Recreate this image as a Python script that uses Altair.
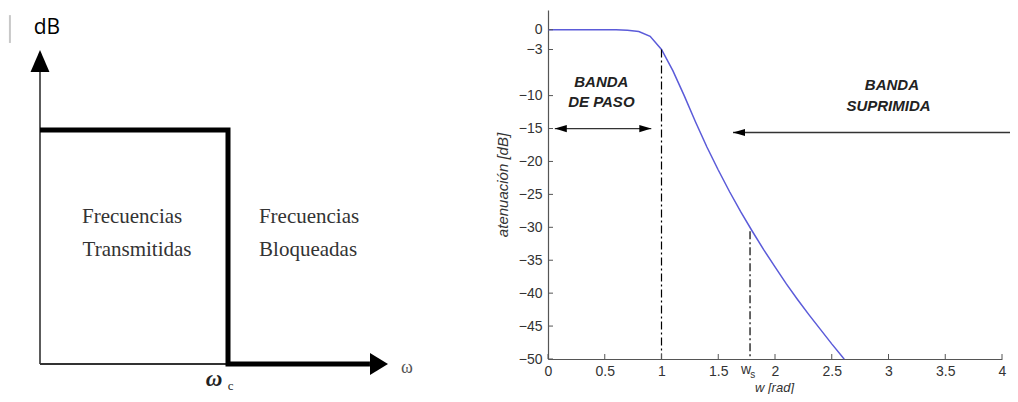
import altair as alt
import pandas as pd

# ================= LEFT PANEL: ideal low-pass sketch =================
# x in units of w/wc, y in units of the pass-band level
ideal_x = [0.0, 1.0, 1.0, 1.755]
ideal_y = [1.0, 1.0, 0.0, 0.0]
vaxis_x = [0.0, 0.0]
vaxis_y = [0.0, 1.25]
haxis_x = [0.0, 1.0]
haxis_y = [0.0, 0.0]
arrow_up_x = [0.0]
arrow_up_y = [1.342]
arrow_right_x = [1.851]
arrow_right_y = [0.0]
region_labels = ["Frecuencias", "Transmitidas", "Frecuencias", "Bloqueadas"]
region_x = [0.49, 0.516, 1.431, 1.426]
region_y = [0.628, 0.487, 0.628, 0.487]
omega_c_x = [0.926]
omega_c_y = [-0.066]
sub_c_x = [1.014]
sub_c_y = [-0.094]
omega_x = [1.952]
omega_y = [-0.015]
db_label_x = [0.037]
db_label_y = [1.436]
cursor_x = [-0.16, -0.16]
cursor_y = [1.372, 1.491]

# ================= RIGHT PANEL: attenuation curve =================
w_curve = [0.0, 0.2, 0.4, 0.6, 0.7, 0.8, 0.9, 1.0, 1.1, 1.2, 1.3, 1.4, 1.5,
           1.6, 1.7, 1.8, 1.9, 2.0, 2.1, 2.2, 2.3, 2.4, 2.5, 2.6, 2.61]
db_curve = [0.0, 0.0, 0.0, -0.01, -0.06, -0.27, -1.0, -3.0, -6.2, -10.0, -14.0,
            -17.8, -21.3, -24.6, -27.7, -30.6, -33.4, -36.0, -38.6, -41.0,
            -43.3, -45.5, -47.7, -49.8, -50.0]
ytick_vals = [0, -3, -10, -15, -20, -25, -30, -35, -40, -45, -50]
xtick_vals = [0, 0.5, 1, 1.5, 2, 2.5, 3, 3.5, 4]
vline_w = [1.0, 1.78]
vline_top = [-3.0, -30.6]
vline_bottom = [-50.0, -50.0]
band_arrow_from = [0.06, 1.63]
band_arrow_to = [0.91, 4.3]
band_arrow_db = [-15.0, -15.6]
head_left_w = [0.06, 1.63]
head_left_db = [-15.0, -15.6]
head_right_w = [0.91]
head_right_db = [-15.0]
band_text = ["BANDA", "DE PASO", "BANDA", "SUPRIMIDA"]
band_w = [0.47, 0.47, 3.03, 3.0]
band_db = [-7.9, -10.9, -8.4, -11.6]
ws_w = [1.744]
ws_db = [-51.7]
ws_sub_w = [1.804]
ws_sub_db = [-52.5]

# ----------------------------------------------------------------
def df(**cols):
    d = pd.DataFrame(cols)
    d["i"] = range(len(d))
    return d

LX = alt.Scale(domain=[0, 1], range=[-508, -320], nice=False, zero=False)
LY = alt.Scale(domain=[0, 1], range=[354, 120], nice=False, zero=False)

def lxy():
    return dict(x=alt.X("x:Q", scale=LX, axis=None),
                y=alt.Y("y:Q", scale=LY, axis=None))

UP = "M0,0L-0.86,2L0.86,2Z"
RIGHT = "M0,0L-2,-1.22L-2,1.22Z"
S_LEFT = "M0,0L2,-0.6L2,0.6Z"
S_RIGHT = "M0,0L-2,-0.6L-2,0.6Z"

left = alt.layer(
    alt.Chart(df(x=cursor_x, y=cursor_y)).mark_line(color="#c8c8c8", strokeWidth=2)
       .encode(order="i:Q", **lxy()),
    alt.Chart(df(x=vaxis_x, y=vaxis_y)).mark_line(color="#333", strokeWidth=1.6)
       .encode(order="i:Q", **lxy()),
    alt.Chart(df(x=haxis_x, y=haxis_y)).mark_line(color="#333", strokeWidth=2)
       .encode(order="i:Q", **lxy()),
    alt.Chart(df(x=ideal_x, y=ideal_y)).mark_line(color="black", strokeWidth=5,
                                                   strokeJoin="miter", strokeCap="butt")
       .encode(order="i:Q", **lxy()),
    alt.Chart(df(x=arrow_up_x, y=arrow_up_y)).mark_point(
        shape=UP, size=484, filled=True, color="black", opacity=1, strokeWidth=0)
       .encode(**lxy()),
    alt.Chart(df(x=arrow_right_x, y=arrow_right_y)).mark_point(
        shape=RIGHT, size=324, filled=True, color="black", opacity=1, strokeWidth=0)
       .encode(**lxy()),
    alt.Chart(df(x=region_x, y=region_y, t=region_labels)).mark_text(
        font="Liberation Serif", fontSize=21, color="#333", align="center", baseline="middle")
       .encode(text="t:N", **lxy()),
    alt.Chart(df(x=omega_c_x, y=omega_c_y, t=["ω"])).mark_text(
        font="Liberation Serif", fontSize=23, fontStyle="italic", fontWeight="bold",
        color="#222", align="center", baseline="middle")
       .encode(text="t:N", **lxy()),
    alt.Chart(df(x=sub_c_x, y=sub_c_y, t=["c"])).mark_text(
        font="Liberation Serif", fontSize=13, color="#222", align="center", baseline="middle")
       .encode(text="t:N", **lxy()),
    alt.Chart(df(x=omega_x, y=omega_y, t=["ω"])).mark_text(
        font="Liberation Serif", fontSize=18, color="#555", align="center", baseline="middle")
       .encode(text="t:N", **lxy()),
    alt.Chart(df(x=db_label_x, y=db_label_y, t=["dB"])).mark_text(
        font="Open Sans", fontSize=21, color="black", align="center", baseline="middle")
       .encode(text="t:N", **lxy()),
)

RX = alt.Scale(domain=[0, 4], nice=False, zero=False)
RY = alt.Scale(domain=[-50, 3], nice=False, zero=False)
AX = alt.Axis(values=xtick_vals, format=".1~f", orient="bottom", ticks=False,
              labelFont="Liberation Sans", labelFontSize=14, labelColor="#333",
              labelPadding=5, labelFlush=False, labelOverlap=False,
              domainColor="#555", domainWidth=1.2, grid=False,
              title="w [rad]", titleFont="Liberation Sans", titleFontSize=13,
              titleFontStyle="italic", titleFontWeight="normal", titleColor="#333",
              titleX=226, titleY=28.5, titleBaseline="middle", titleAlign="center")
AY = alt.Axis(values=ytick_vals, format="d", orient="left", ticks=False,
              labelFont="Liberation Sans", labelFontSize=14, labelColor="#333",
              labelPadding=6, labelOverlap=False, labelFlush=False,
              domainColor="#555", domainWidth=1.2, grid=False,
              title="atenuación [dB]", titleFont="Liberation Sans", titleFontSize=15,
              titleFontStyle="italic", titleFontWeight="normal", titleColor="#333",
              titleX=-46, titleY=174.5, titleAngle=270, titleBaseline="middle",
              titleAlign="center")

def rx(f="w"):
    return alt.X(f"{f}:Q", scale=RX, axis=AX)

def ry(f="db"):
    return alt.Y(f"{f}:Q", scale=RY, axis=AY)

right = alt.layer(
    alt.Chart(df(w=w_curve, db=db_curve)).mark_line(color="#5b5bd9", strokeWidth=1.5)
       .encode(x=rx(), y=ry(), order="i:Q"),
    alt.Chart(df(w=vline_w, db=vline_top, b=vline_bottom)).mark_rule(
        color="black", strokeWidth=1.2, strokeDash=[8, 3, 2, 3])
       .encode(x=rx(), y=ry(), y2="b:Q"),
    alt.Chart(df(w=band_arrow_from, w2=band_arrow_to, db=band_arrow_db)).mark_rule(
        color="#333", strokeWidth=1.3)
       .encode(x=rx(), x2="w2:Q", y=ry()),
    alt.Chart(df(w=head_left_w, db=head_left_db)).mark_point(
        shape=S_LEFT, size=144, filled=True, color="black", opacity=1, strokeWidth=0)
       .encode(x=rx(), y=ry()),
    alt.Chart(df(w=head_right_w, db=head_right_db)).mark_point(
        shape=S_RIGHT, size=144, filled=True, color="black", opacity=1, strokeWidth=0)
       .encode(x=rx(), y=ry()),
    alt.Chart(df(w=band_w, db=band_db, t=band_text)).mark_text(
        font="Liberation Sans", fontSize=15, fontStyle="italic", fontWeight="bold",
        color="#222", align="center", baseline="middle")
       .encode(x=rx(), y=ry(), text="t:N"),
    alt.Chart(df(db=ytick_vals)).mark_rule(color="#555", strokeWidth=1)
       .encode(x=alt.value(0), x2=alt.value(5), y=ry()),
    alt.Chart(df(w=xtick_vals)).mark_rule(color="#555", strokeWidth=1)
       .encode(x=rx(), y=alt.value(349), y2=alt.value(344)),
    alt.Chart(df(w=ws_w, db=ws_db, t=["w"])).mark_text(
        font="Liberation Sans", fontSize=14, color="#333", align="center", baseline="middle")
       .encode(x=rx(), y=ry(), text="t:N"),
    alt.Chart(df(w=ws_sub_w, db=ws_sub_db, t=["s"])).mark_text(
        font="Liberation Sans", fontSize=10, color="#333", align="center", baseline="middle")
       .encode(x=rx(), y=ry(), text="t:N"),
)

chart = alt.layer(right, left).resolve_scale(x="independent", y="independent").properties(
    width=454, height=349,
    padding={"left": 540, "top": 2, "right": 8, "bottom": 35},
    autosize=alt.AutoSizeParams(type="none"),
    background="white",
).configure_view(stroke=None)

chart.save("out.html", embed_options={"renderer": "svg", "actions": False})
